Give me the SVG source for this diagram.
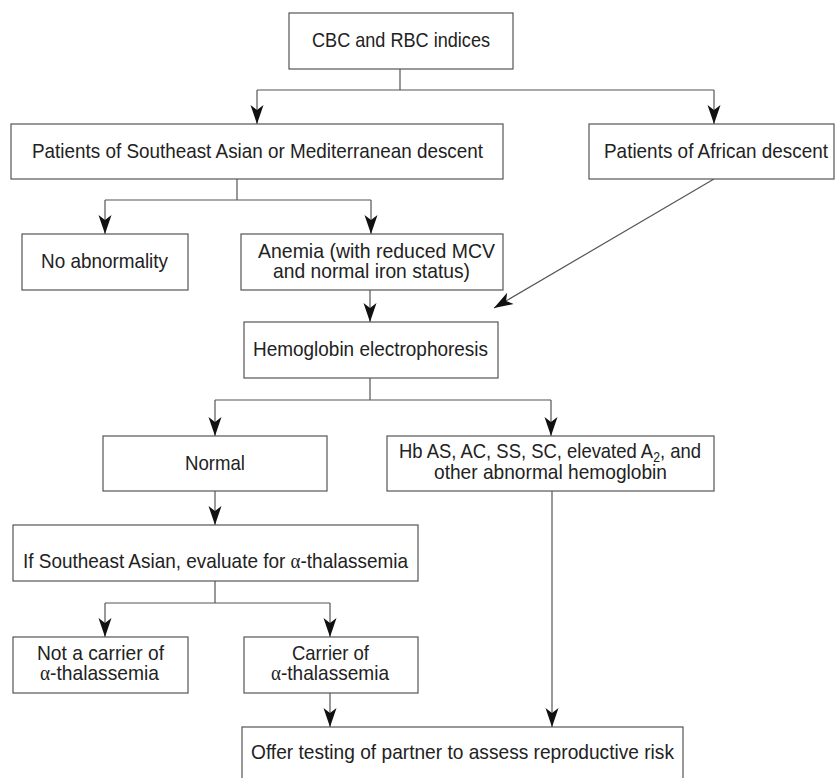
<svg xmlns="http://www.w3.org/2000/svg" width="835" height="778" viewBox="0 0 835 778">
<style>
.box{fill:#fff;stroke:#555;stroke-width:1.2}
.ln{fill:none;stroke:#555;stroke-width:1.2}
.t{font-family:"Liberation Sans",Arial,sans-serif;font-size:21px;fill:#222}
.g{font-family:"Liberation Serif","Times New Roman",serif}
</style>
<defs>
<marker id="ah" markerUnits="userSpaceOnUse" markerWidth="24" markerHeight="16" viewBox="-20 -8 22 16" refX="0" refY="0" orient="auto">
<path d="M0,0 L-19,-6.5 L-14,0 L-19,6.5 Z" fill="#111"/>
</marker>
</defs>
<rect width="835" height="778" fill="#fff"/>
<g id="connectors">
<path class="ln" d="M400,69 V90 M257,90 H714"/>
<path class="ln" d="M257,90 V124" marker-end="url(#ah)"/>
<path class="ln" d="M714,90 V124" marker-end="url(#ah)"/>
<path class="ln" d="M237,179 V200 M105,200 H371"/>
<path class="ln" d="M105,200 V234" marker-end="url(#ah)"/>
<path class="ln" d="M371,200 V234" marker-end="url(#ah)"/>
<path class="ln" d="M714,179 L494,308" marker-end="url(#ah)"/>
<path class="ln" d="M370,290 V322" marker-end="url(#ah)"/>
<path class="ln" d="M370,378 V400 M215,400 H551"/>
<path class="ln" d="M215,400 V436" marker-end="url(#ah)"/>
<path class="ln" d="M551,400 V436" marker-end="url(#ah)"/>
<path class="ln" d="M215,491 V525" marker-end="url(#ah)"/>
<path class="ln" d="M215,581 V603 M105,603 H330"/>
<path class="ln" d="M105,603 V637" marker-end="url(#ah)"/>
<path class="ln" d="M330,603 V637" marker-end="url(#ah)"/>
<path class="ln" d="M330,693 V727" marker-end="url(#ah)"/>
<path class="ln" d="M552,491 V727" marker-end="url(#ah)"/>
</g>
<g id="cbc">
<rect class="box" x="289" y="13" width="224" height="56"/>
<text class="t" x="312" y="47" textLength="178" lengthAdjust="spacingAndGlyphs">CBC and RBC indices</text>
</g>
<g id="se-asian">
<rect class="box" x="11" y="124" width="492" height="55"/>
<text class="t" x="32" y="158" textLength="451" lengthAdjust="spacingAndGlyphs">Patients of Southeast Asian or Mediterranean descent</text>
</g>
<g id="african">
<rect class="box" x="589" y="124" width="245" height="55"/>
<text class="t" x="604" y="158" textLength="224" lengthAdjust="spacingAndGlyphs">Patients of African descent</text>
</g>
<g id="no-abnormality">
<rect class="box" x="22" y="234" width="166" height="56"/>
<text class="t" x="41" y="268" textLength="127" lengthAdjust="spacingAndGlyphs">No abnormality</text>
</g>
<g id="anemia">
<rect class="box" x="241" y="234" width="262" height="56"/>
<text class="t" x="258" y="258" textLength="237" lengthAdjust="spacingAndGlyphs">Anemia (with reduced MCV</text>
<text class="t" x="273" y="278" textLength="197" lengthAdjust="spacingAndGlyphs">and normal iron status)</text>
</g>
<g id="electrophoresis">
<rect class="box" x="244" y="322" width="254" height="56"/>
<text class="t" x="253" y="356" textLength="235" lengthAdjust="spacingAndGlyphs">Hemoglobin electrophoresis</text>
</g>
<g id="normal">
<rect class="box" x="103" y="436" width="224" height="55"/>
<text class="t" x="185" y="470" textLength="60" lengthAdjust="spacingAndGlyphs">Normal</text>
</g>
<g id="abnormal-hb">
<rect class="box" x="387" y="436" width="327" height="55"/>
<text class="t" x="399" y="458" textLength="302" lengthAdjust="spacingAndGlyphs">Hb AS, AC, SS, SC, elevated A<tspan font-size="14" dy="4">2</tspan><tspan dy="-4">, and</tspan></text>
<text class="t" x="434" y="479" textLength="233" lengthAdjust="spacingAndGlyphs">other abnormal hemoglobin</text>
</g>
<g id="evaluate-alpha">
<rect class="box" x="13" y="525" width="405" height="56"/>
<text class="t" x="23" y="568" textLength="385" lengthAdjust="spacingAndGlyphs">If Southeast Asian, evaluate for <tspan class="g">α</tspan>-thalassemia</text>
</g>
<g id="not-carrier">
<rect class="box" x="13" y="637" width="175" height="56"/>
<text class="t" x="37" y="660" textLength="127" lengthAdjust="spacingAndGlyphs">Not a carrier of</text>
<text class="t" x="40" y="680" textLength="119" lengthAdjust="spacingAndGlyphs"><tspan class="g">α</tspan>-thalassemia</text>
</g>
<g id="carrier">
<rect class="box" x="244" y="637" width="174" height="56"/>
<text class="t" x="292" y="660" textLength="77" lengthAdjust="spacingAndGlyphs">Carrier of</text>
<text class="t" x="271" y="680" textLength="118" lengthAdjust="spacingAndGlyphs"><tspan class="g">α</tspan>-thalassemia</text>
</g>
<g id="offer-testing">
<rect class="box" x="242" y="727" width="441" height="60"/>
<text class="t" x="251" y="759" textLength="423" lengthAdjust="spacingAndGlyphs">Offer testing of partner to assess reproductive risk</text>
</g>
</svg>
